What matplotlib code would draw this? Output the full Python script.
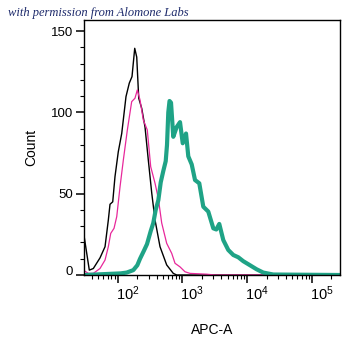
import numpy as np
import matplotlib
matplotlib.use("Agg")
import matplotlib.pyplot as plt
import matplotlib.transforms as mtransforms
from matplotlib.ticker import LogLocator, NullFormatter, MultipleLocator

plt.rcParams['font.family'] = ['Liberation Sans', 'DejaVu Sans']

# histograms: log10(APC-A) and count
black_logx = [1.484, 1.561, 1.623, 1.726, 1.804, 1.855, 1.881, 1.923, 1.958, 2.009,
              2.062, 2.128, 2.179, 2.221, 2.263, 2.294, 2.325, 2.371, 2.422, 2.473,
              2.526, 2.577, 2.654, 2.757, 2.859, 2.912, 5.436]
black_count = [23, 3, 4, 10.5, 17.4, 33.8, 43.5, 45, 60.5, 75.8,
               87, 109.7, 118, 122, 139.4, 134, 108.7, 102.5, 91, 70.7,
               50.4, 33.8, 17.4, 6.2, 1, 0, 0]

pink_logx = [1.484, 1.546, 1.623, 1.726, 1.804, 1.855, 1.892, 1.943, 1.985, 2.036,
             2.087, 2.149, 2.216, 2.267, 2.303, 2.345, 2.396, 2.457, 2.510, 2.577,
             2.628, 2.680, 2.757, 2.835, 2.886, 2.963, 3.040, 3.117, 3.376, 3.504, 5.436]
pink_count = [2.6, 1, 1, 4, 9.2, 17.4, 25.6, 28.7, 35.9, 54.3,
              70.7, 89.2, 106.6, 108.7, 113.8, 107.6, 95.3, 89.2, 66.6, 56.4,
              47, 32, 19.5, 13.3, 7.2, 5, 2, 1, 0.5, 0, 0]

teal_logx = [1.484, 2.046, 2.139, 2.241, 2.303, 2.345, 2.406, 2.453, 2.510, 2.550,
             2.587, 2.628, 2.665, 2.705, 2.742, 2.762, 2.782, 2.801, 2.824, 2.859,
             2.912, 2.963, 3.005, 3.056, 3.091, 3.144, 3.195, 3.261, 3.323, 3.400,
             3.478, 3.524, 3.570, 3.632, 3.709, 3.787, 3.864, 3.941, 4.045, 4.148,
             4.250, 4.405, 5.436]
teal_count = [0, 1, 1.5, 3, 6, 10, 15, 19, 27, 32,
              40, 46, 57, 64, 70, 80, 100, 107, 106, 85,
              91, 94, 81, 87, 73, 68, 58.4, 56.4, 42, 39,
              28.7, 28, 31.4, 21.5, 15.4, 12.3, 10.9, 8.5, 6, 3.5,
              1.5, 0.3, 0]

y_ticks = [0, 50, 100, 150]
x_ticks = [1e2, 1e3, 1e4, 1e5]
x_tick_labels = [r'$\mathregular{10^{2}}$', r'$\mathregular{10^{3}}$',
                 r'$\mathregular{10^{4}}$', r'$\mathregular{10^{5}}$']

fig = plt.figure(figsize=(3.61, 3.56), dpi=100)
ax = fig.add_axes([0.2327, 0.2275, 0.7091, 0.7163])

ax.plot(10 ** np.array(black_logx), black_count, color='black', lw=1.0)
ax.plot(10 ** np.array(pink_logx), pink_count, color='#e8289b', lw=0.9)
ax.plot(10 ** np.array(teal_logx), teal_count, color='#1fa386', lw=3.0,
        solid_joinstyle='round')

ax.set_xscale('log')
ax.set_xlim(10 ** 1.479, 10 ** 5.436)
ax.set_ylim(0, 156.8)

ax.set_yticks(y_ticks)
ax.set_yticklabels([str(v) for v in y_ticks])
ax.yaxis.set_minor_locator(MultipleLocator(10))
ax.set_xticks(x_ticks)
ax.set_xticklabels(x_tick_labels)
ax.xaxis.set_minor_locator(LogLocator(base=10, subs=np.arange(2, 10)))
ax.xaxis.set_minor_formatter(NullFormatter())

ax.tick_params(axis='both', which='major', direction='out', length=5.5, width=1.1, color='black')
ax.tick_params(axis='both', which='minor', direction='out', length=2.6, width=0.8, color='black')
ax.tick_params(axis='y', which='major', labelsize=9.5, pad=2.5)
ax.tick_params(axis='x', which='major', labelsize=10.5, pad=1.5)

# x tick labels sit to the right of their ticks
for lbl in ax.get_xticklabels():
    lbl.set_horizontalalignment('left')
    lbl.set_transform(lbl.get_transform() + mtransforms.ScaledTranslation(-2 / 100, 0, fig.dpi_scale_trans))
# the 0 label is lifted a little
zero_lbl = ax.get_yticklabels()[0]
zero_lbl.set_transform(zero_lbl.get_transform() + mtransforms.ScaledTranslation(0, 5 / 100, fig.dpi_scale_trans))

for sp in ax.spines.values():
    sp.set_linewidth(1.0)

ax.set_xlabel('APC-A', fontsize=10, labelpad=14)
ax.set_ylabel('Count', fontsize=10, labelpad=9)

fig.text(8 / 361, 1 - 16 / 356, 'with permission from Alomone Labs',
         family=['Liberation Serif', 'DejaVu Serif'], style='italic',
         fontsize=9, color='#1d2a6b')

fig.savefig('out.png', dpi=100)
